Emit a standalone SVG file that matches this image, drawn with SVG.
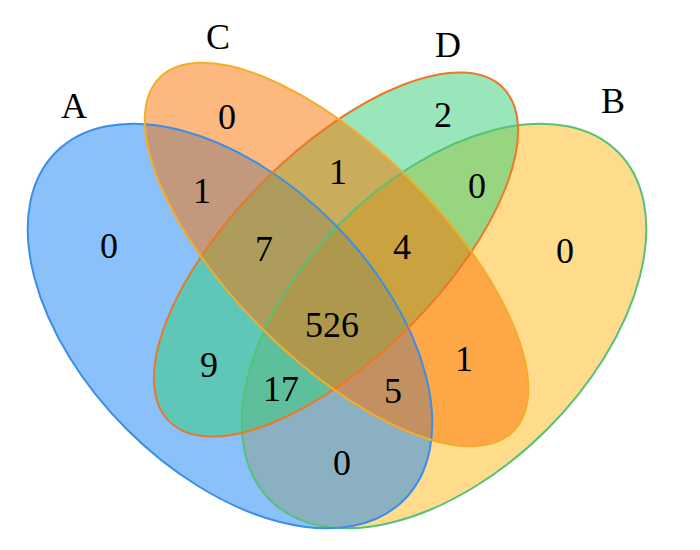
<svg xmlns="http://www.w3.org/2000/svg" xmlns:xlink="http://www.w3.org/1999/xlink" width="700" height="550" viewBox="0 0 700 550">
<style>
.fill{fill-opacity:0.5;stroke:none}
.edge{fill:none;stroke-width:2}
.lbl{font-family:"Liberation Serif","Times New Roman",serif;font-size:36px;fill:#000;text-anchor:middle}
</style>
<defs>
<ellipse id="shA" cx="230" cy="326" rx="246" ry="146" transform="rotate(45 230 326)"/>
<ellipse id="shB" cx="444" cy="326" rx="246" ry="146" transform="rotate(-45 444 326)"/>
<ellipse id="shC" cx="336.5" cy="254.5" rx="250" ry="105" transform="rotate(45 336.5 254.5)"/>
<ellipse id="shD" cx="336" cy="254.5" rx="236" ry="103" transform="rotate(-45 336 254.5)"/>
</defs>
<rect width="700" height="550" fill="#fff"/>
<g id="setB"><use href="#shB" xlink:href="#shB" class="fill" fill="#FDB919"/></g>
<g id="setA"><use href="#shA" xlink:href="#shA" class="fill" fill="#1583F7"/></g>
<g id="setD"><use href="#shD" xlink:href="#shD" class="fill" fill="#31CD75"/></g>
<g id="setC"><use href="#shC" xlink:href="#shC" class="fill" fill="#FB7100"/></g>
<g id="outlines">
<use href="#shB" xlink:href="#shB" class="edge" stroke="#55c277"/>
<use href="#shA" xlink:href="#shA" class="edge" stroke="#3a8ee8"/>
<use href="#shD" xlink:href="#shD" class="edge" stroke="#ea7826"/>
<use href="#shC" xlink:href="#shC" class="edge" stroke="#f3ad2a"/>
</g>
<g id="labels">
<text class="lbl" x="74" y="118">A</text>
<text class="lbl" x="613" y="113">B</text>
<text class="lbl" x="218" y="49">C</text>
<text class="lbl" x="448" y="57">D</text>
</g>
<g id="counts">
<text class="lbl" x="109" y="258">0</text>
<text class="lbl" x="227" y="129">0</text>
<text class="lbl" x="202" y="203">1</text>
<text class="lbl" x="264" y="261">7</text>
<text class="lbl" x="338" y="184">1</text>
<text class="lbl" x="443" y="127">2</text>
<text class="lbl" x="477" y="198">0</text>
<text class="lbl" x="402" y="259">4</text>
<text class="lbl" x="565" y="263">0</text>
<text class="lbl" x="332" y="337">526</text>
<text class="lbl" x="209" y="377">9</text>
<text class="lbl" x="281" y="401">17</text>
<text class="lbl" x="342" y="475">0</text>
<text class="lbl" x="393" y="403">5</text>
<text class="lbl" x="464" y="371">1</text>
</g>
</svg>
